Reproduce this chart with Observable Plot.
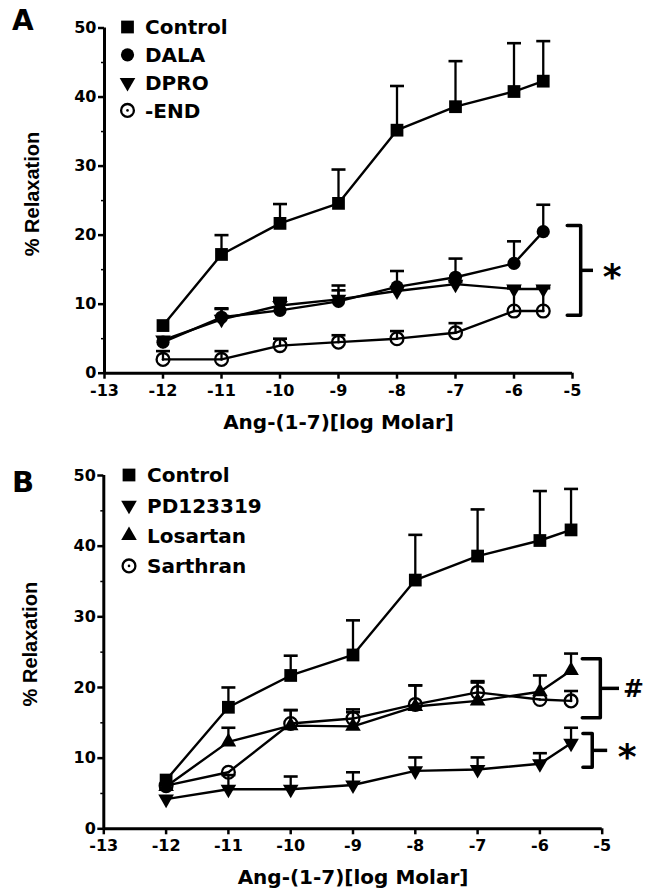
<!DOCTYPE html>
<html><head><meta charset="utf-8">
<script src="https://cdn.jsdelivr.net/npm/d3@7"></script>
<script src="https://cdn.jsdelivr.net/npm/@observablehq/plot@0.6"></script>
<style>
html,body{margin:0;padding:0;background:#fff;}
#page{position:relative;width:645px;height:893px;overflow:hidden;background:#fff;}
#page svg{position:absolute;left:0;overflow:visible;}
</style></head><body><div id="page"></div>
<script>
// ---------- data ----------
const doses = [-12, -11, -10, -9, -8, -7, -6, -5.5];
const xTicks = [-13, -12, -11, -10, -9, -8, -7, -6, -5];
const yTicks = [0, 10, 20, 30, 40, 50];
const yMinorTicks = [5, 15, 25, 35, 45];
const xDomain = [-13, -5];
const yDomain = [0, 50];

// Panel A
const controlMean = [6.9, 17.2, 21.7, 24.6, 35.2, 38.6, 40.8, 42.3];
const controlTop  = [6.9, 20.0, 24.5, 29.5, 41.6, 45.2, 47.8, 48.1];
const dalaMean    = [4.5, 8.1, 9.1, 10.4, 12.5, 13.9, 15.9, 20.5];
const dalaTop     = [4.5, 9.3, 10.6, 12.7, 14.8, 16.6, 19.1, 24.4];
const dproMean    = [4.8, 7.8, 9.8, 10.7, 11.9, 12.9, 12.2, 12.2];
const dproTop     = [4.8, 9.4, 10.9, 12.0, 12.5, 13.2, 12.6, 12.6];
const endMean     = [2.0, 2.0, 4.0, 4.5, 5.0, 5.85, 9.0, 9.0];
const endTop      = [3.2, 3.2, 5.0, 5.5, 6.1, 7.25, 12.3, 12.3];

// Panel B
const pdMean  = [4.2, 5.6, 5.6, 6.2, 8.2, 8.4, 9.2, 12.1];
const pdTop   = [4.2, 7.6, 7.4, 8.0, 10.1, 10.1, 10.7, 14.3];
const losMean = [6.0, 12.3, 14.6, 14.5, 17.3, 18.1, 19.4, 22.4];
const losTop  = [6.0, 14.3, 16.8, 16.5, 20.3, 20.7, 21.7, 24.8];
const sarMean = [6.1, 8.0, 14.9, 15.6, 17.6, 19.3, 18.3, 18.1];
const sarTop  = [6.1, 8.0, 16.8, 16.9, 20.3, 20.9, 18.3, 19.5];

const seriesA = [
  {name: "Control", shape: "square", mean: controlMean, top: controlTop},
  {name: "DALA", shape: "circle", mean: dalaMean, top: dalaTop},
  {name: "DPRO", shape: "down", mean: dproMean, top: dproTop},
  {name: "-END", shape: "open", mean: endMean, top: endTop}
];
const seriesB = [
  {name: "Control", shape: "square", mean: controlMean, top: controlTop},
  {name: "PD123319", shape: "down", mean: pdMean, top: pdTop},
  {name: "Losartan", shape: "up", mean: losMean, top: losTop},
  {name: "Sarthran", shape: "open", mean: sarMean, top: sarTop}
];

// significance brackets (data units)
const bracketsA = [{top: 21.4, bottom: 8.4, xv: -4.86, xtip: -5.09, xmid: -4.65, labelX: -4.32, label: "*"}];
const bracketsB = [
  {top: 24.05, bottom: 15.7, xv: -5.03, xtip: -5.32, xmid: -4.73, labelX: -4.5, label: "#"},
  {top: 13.5, bottom: 8.7, xv: -5.16, xtip: -5.31, xmid: -4.92, labelX: -4.6, label: "*"}
];

const xTitle = "Ang-(1-7)[log Molar]";
const yTitle = "% Relaxation";

// ---------- drawing ----------
const BOLD = "DejaVu Sans, Verdana, sans-serif";
const ARIAL = "Liberation Sans, Arial, sans-serif";
const capSymbol = {draw(ctx, size) { const w = Math.sqrt(size / Math.PI); ctx.moveTo(-w, 0); ctx.lineTo(w, 0); }};

function toRows(series) {
  return series.flatMap(s => doses.map((x, i) => ({series: s.name, shape: s.shape, x, mean: s.mean[i], top: s.top[i]})));
}

function markerMarks(rows) {
  const by = sh => rows.filter(d => d.shape === sh);
  return [
    Plot.dot(by("square"), {x: "x", y: "mean", symbol: "square", r: 7.2, fill: "black"}),
    Plot.dot(by("circle"), {x: "x", y: "mean", symbol: "circle", r: 6.6, fill: "black"}),
    Plot.dot(by("down"), {x: "x", y: "mean", symbol: "triangle", r: 5.8, fill: "black", rotate: 180}),
    Plot.dot(by("up"), {x: "x", y: "mean", symbol: "triangle", r: 5.8, fill: "black"}),
    Plot.dot(by("open"), {x: "x", y: "mean", symbol: "circle", r: 6.4, fill: "none", stroke: "black", strokeWidth: 2.3}),
    Plot.dot(by("open"), {x: "x", y: "mean", symbol: "circle", r: 1.3, fill: "black"})
  ];
}

function bracketMarks(brackets) {
  const marks = [];
  brackets.forEach(b => {
    const pts = [{x: b.xtip, y: b.top}, {x: b.xv, y: b.top}, {x: b.xv, y: b.bottom}, {x: b.xtip, y: b.bottom}];
    marks.push(Plot.line(pts, {x: "x", y: "y", stroke: "black", strokeWidth: 3.5, strokeLinejoin: "round"}));
    marks.push(Plot.link([b], {x1: "xv", x2: "xmid", y1: d => (d.top + d.bottom) / 2, y2: d => (d.top + d.bottom) / 2, stroke: "black", strokeWidth: 3.5}));
  });
  marks.push(Plot.text(brackets.filter(b => b.label === "*"), {x: "labelX", y: d => (d.top + d.bottom) / 2, text: "label", fontSize: 36, fontWeight: "bold", fontFamily: BOLD, fill: "black", dy: 7, lineAnchor: "middle"}));
  marks.push(Plot.text(brackets.filter(b => b.label !== "*"), {x: "labelX", y: d => (d.top + d.bottom) / 2, text: "label", fontSize: 25, fontWeight: "bold", fontFamily: BOLD, fill: "black", dy: 1, lineAnchor: "middle"}));
  return marks;
}

function panel({series, brackets, height, marginLeft, marginRight, marginTop, marginBottom, yTitleDx, yTitleDy, xTitleDy}) {
  const rows = toRows(series);
  const errRows = rows.filter(d => d.top > d.mean);
  return Plot.plot({
    width: 645, height, marginLeft, marginRight, marginTop, marginBottom,
    x: {domain: xDomain}, y: {domain: yDomain},
    style: {background: "transparent", overflow: "visible", color: "black"},
    marks: [
      Plot.axisX({ticks: xTicks, tickSize: 6, tickPadding: 5, strokeWidth: 2.5, fontSize: 16, fontWeight: "bold", fontFamily: BOLD, tickFormat: d => String(d).replace("−", "-")}),
      Plot.axisY({ticks: yTicks, tickSize: 6, tickPadding: 2, strokeWidth: 2.5, fontSize: 16, fontWeight: "bold", fontFamily: BOLD, tickFormat: d => String(d), label: null}),
      Plot.axisY({ticks: yMinorTicks, tickSize: 3, strokeWidth: 1.5, tickFormat: () => "", label: null}),
      Plot.ruleY([yDomain[0]], {x1: xDomain[0], x2: xDomain[1], strokeWidth: 3}),
      Plot.ruleX([xDomain[0]], {y1: yDomain[0], y2: yDomain[1], strokeWidth: 3}),
      Plot.line(rows, {x: "x", y: "mean", z: "series", stroke: "black", strokeWidth: 2.4}),
      Plot.ruleX(errRows, {x: "x", y1: "mean", y2: "top", stroke: "black", strokeWidth: 2.3}),
      Plot.dot(errRows, {x: "x", y: "top", symbol: capSymbol, r: 7, stroke: "black", strokeWidth: 2.6, fill: "none"}),
      ...markerMarks(rows),
      ...bracketMarks(brackets),
      Plot.text([xTitle], {text: d => d, frameAnchor: "bottom", dy: xTitleDy, lineAnchor: "middle", fontSize: 20, fontWeight: "bold", fontFamily: BOLD, fill: "black"}),
      Plot.text([yTitle], {text: d => d, frameAnchor: "left", rotate: -90, dx: yTitleDx, dy: yTitleDy, lineAnchor: "middle", textAnchor: "middle", fontSize: 20, fontWeight: "bold", fontFamily: ARIAL, fill: "black"})
    ]
  });
}

const page = document.getElementById("page");
const plotA = panel({series: seriesA, brackets: bracketsA, height: 446, marginLeft: 104, marginRight: 73, marginTop: 27.5, marginBottom: 73.3, yTitleDx: -72, yTitleDy: -6.6, xTitleDy: 49});
plotA.style.top = "0px";
page.appendChild(plotA);
const plotB = panel({series: seriesB, brackets: bracketsB, height: 447, marginLeft: 103.3, marginRight: 43.3, marginTop: 29, marginBottom: 64.7, yTitleDx: -73, yTitleDy: -8, xTitleDy: 48.4});
plotB.style.top = "446px";
page.appendChild(plotB);

// ---------- legends & panel letters (overlay) ----------
const ov = d3.select(page).append("svg").attr("width", 645).attr("height", 893).style("top", "0px").style("pointer-events", "none");
function symbolPath(shape) {
  if (shape === "square") return d3.symbol(d3.symbolSquare, Math.PI * 7.2 * 7.2)();
  if (shape === "down" || shape === "up") return d3.symbol(d3.symbolTriangle, Math.PI * 5.8 * 5.8)();
  return d3.symbol(d3.symbolCircle, Math.PI * 6.6 * 6.6)();
}
function legend(series, symX, textX, y0, step) {
  series.forEach((s, i) => {
    const y = y0 + i * step;
    const g = ov.append("g").attr("transform", `translate(${symX},${y})${s.shape === "down" ? " rotate(180)" : ""}`);
    if (s.shape === "open") {
      g.append("circle").attr("r", 6.4).attr("fill", "none").attr("stroke", "black").attr("stroke-width", 2.3);
      g.append("circle").attr("r", 1.3).attr("fill", "black");
    } else {
      g.append("path").attr("d", symbolPath(s.shape)).attr("fill", "black");
    }
    ov.append("text").attr("x", textX).attr("y", y + 7.3).text(s.name)
      .attr("font-family", BOLD).attr("font-weight", "bold").attr("font-size", 20).attr("fill", "black");
  });
}
legend(seriesA, 127.5, 145, 27, 27.8);
legend(seriesB, 129, 147, 475, 30.3);
ov.append("text").attr("x", 12).attr("y", 30).text("A").attr("font-family", BOLD).attr("font-weight", "bold").attr("font-size", 28);
ov.append("text").attr("x", 12).attr("y", 492).text("B").attr("font-family", BOLD).attr("font-weight", "bold").attr("font-size", 29);
</script></body></html>
